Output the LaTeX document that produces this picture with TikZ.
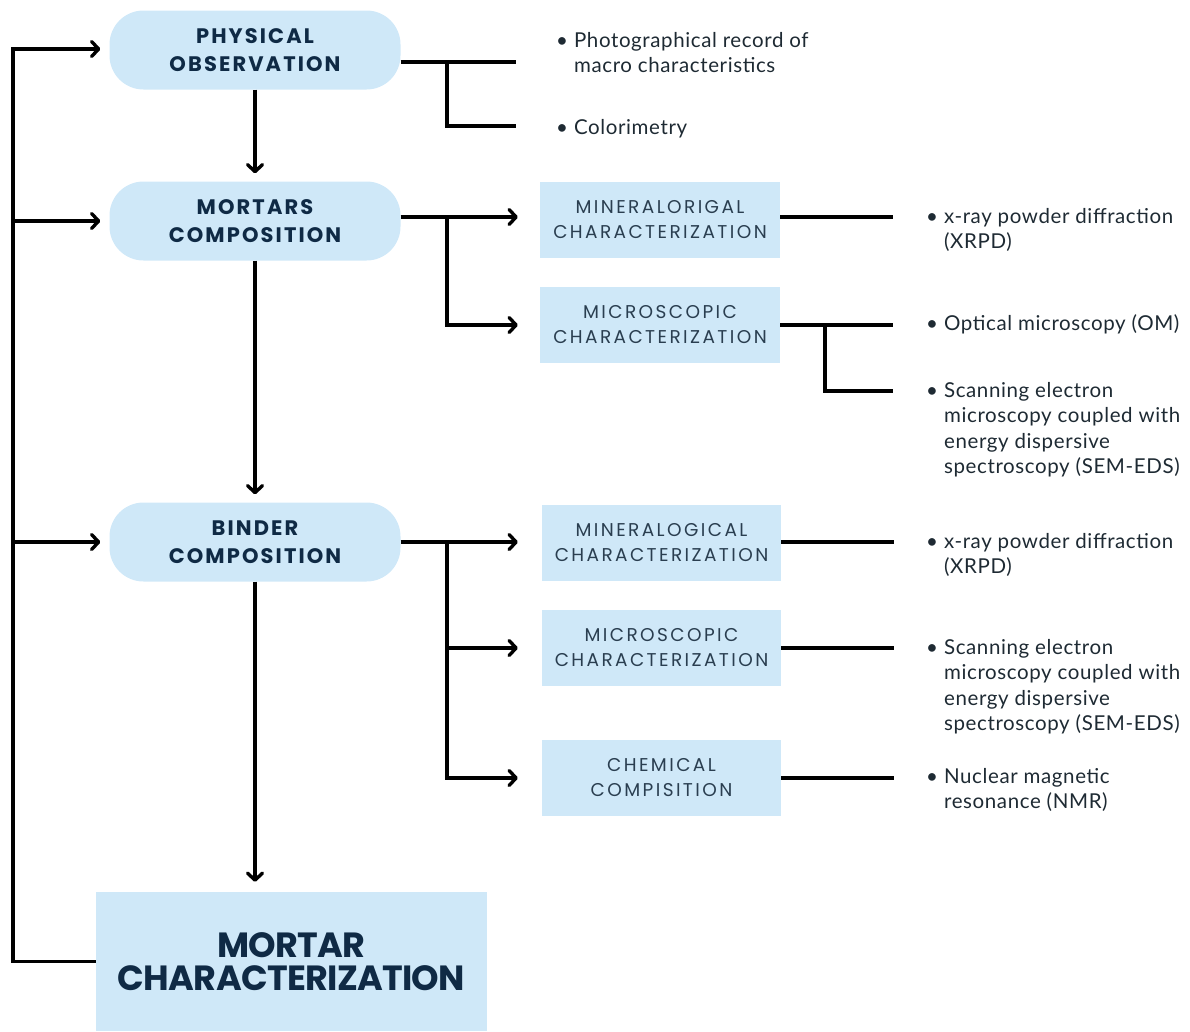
\documentclass[tikz,border=0pt]{standalone}
\usepackage{fontspec}
\setmainfont[LetterSpace=3]{Lato}
\newfontfamily\pillfont[LetterSpace=10]{Poppins}
\newfontfamily\boxfont[LetterSpace=13]{Poppins}
\newfontfamily\bigfont[LetterSpace=-2]{Poppins}
\usetikzlibrary{arrows.meta}
\definecolor{pale}{HTML}{CFE8F8}
\definecolor{navy}{HTML}{0F2A45}
\definecolor{slate}{HTML}{2A3E50}
\definecolor{ink}{HTML}{1E2A33}

\newcommand{\bul}[1]{\textbullet\hspace{6pt}\begin{tabular}[t]{@{}l@{}}#1\end{tabular}}

\tikzset{
    pill/.style={fill=pale, rounded corners=34pt, minimum width=291pt, minimum height=79pt, text=navy,
        font=\pillfont\bfseries\fontsize{21}{28}\selectfont, align=center},
    method/.style={fill=pale, minimum width=240pt, minimum height=76pt, text=slate,
        font=\boxfont\fontsize{18.5}{25}\selectfont, align=center},
    item/.style={anchor=base west, inner sep=0pt, align=left, text=ink,
        font=\fontsize{20.5}{25.5}\selectfont},
    link/.style={line width=3.4pt},
    arr/.style={link, -{Straight Barb[length=7pt,width=15pt,line width=3.4pt,round]}},
}

\begin{document}
\begin{tikzpicture}[x=1pt, y=-1pt]
    \useasboundingbox (0,0) rectangle (1190,1031);

    % main column
    \node[pill] (phys) at (255,50) {PHYSICAL\\OBSERVATION};
    \node[pill] (mort) at (255,221) {MORTARS\\COMPOSITION};
    \node[pill] (bind) at (255,542) {BINDER\\COMPOSITION};
    \node[fill=pale, minimum width=391pt, minimum height=139pt, text=navy, align=center,
        font=\bigfont\bfseries\fontsize{35}{33}\selectfont] (charac) at (291.5,961.5) {MORTAR\\CHARACTERIZATION};

    \draw[arr, shorten >=8pt] (phys) -- (mort);
    \draw[arr, shorten >=8pt] (mort) -- (bind);
    \draw[arr, shorten >=10pt] (bind) -- (bind |- charac.north);

    % feedback rail on the left
    \coordinate (rail) at (13,49);
    \draw[arr, shorten >=9pt] (charac.west) -| (rail) -- (rail -| phys.west);
    \draw[arr, shorten >=9pt] (rail |- mort) -- (mort);
    \draw[arr, shorten >=9pt] (rail |- bind) -- (bind);

    % analysis boxes
    \node[method] (minA) at (660,219.5) {MINERALORIGAL\\CHARACTERIZATION};
    \node[method] (micA) at (660,325) {MICROSCOPIC\\CHARACTERIZATION};
    \node[method, minimum width=239pt] (minB) at (661.5,543) {MINERALOGICAL\\CHARACTERIZATION};
    \node[method, minimum width=239pt] (micB) at (661.5,648) {MICROSCOPIC\\CHARACTERIZATION};
    \node[method, minimum width=239pt] (chem) at (661.5,778) {CHEMICAL\\COMPISITION};

    % techniques
    \node[item] (photo) at (556,47) {\bul{Photographical record of\\macro characteristics}};
    \node[item] (color) at (556,134) {\bul{Colorimetry}};
    \node[item] (xrpdA) at (926,223) {\bul{x-ray powder diffraction\\(XRPD)}};
    \node[item] (om) at (926,330) {\bul{Optical microscopy (OM)}};
    \node[item] (semA) at (926,397) {\bul{Scanning electron\\microscopy coupled with\\energy dispersive\\spectroscopy (SEM-EDS)}};
    \node[item] (xrpdB) at (926,548) {\bul{x-ray powder diffraction\\(XRPD)}};
    \node[item] (semB) at (926,654) {\bul{Scanning electron\\microscopy coupled with\\energy dispersive\\spectroscopy (SEM-EDS)}};
    \node[item] (nmr) at (926,783) {\bul{Nuclear magnetic\\resonance (NMR)}};

    % physical observation
    \coordinate (pj) at (447,62);
    \coordinate (photo-l) at (516,62);
    \coordinate (color-l) at (516,126);
    \draw[link] (phys.east |- pj) -- (photo-l);
    \draw[link] (pj) |- (color-l);

    % mortars composition
    \coordinate (mj) at (447,217);
    \draw[arr, shorten >=22pt] (mort.east |- mj) -- (minA.west |- mj);
    \draw[arr, shorten >=22pt] (mj) |- (micA.west);
    \coordinate (xrpdA-l) at (893,217);
    \coordinate (om-l) at (893,325);
    \coordinate (micj) at (825,325);
    \coordinate (semA-l) at (893,391);
    \draw[link] (minA.east |- mj) -- (xrpdA-l);
    \draw[link] (micA.east) -- (om-l);
    \draw[link] (micj) |- (semA-l);

    % binder composition
    \coordinate (bj) at (447,542);
    \draw[arr, shorten >=24pt] (bind.east |- bj) -- (minB.west |- bj);
    \draw[arr, shorten >=24pt] (bj) |- (micB.west);
    \draw[arr, shorten >=24pt] (bj) |- (chem.west);
    \coordinate (xrpdB-l) at (894,542);
    \coordinate (semB-l) at (894,648);
    \coordinate (nmr-l) at (894,778);
    \draw[link] (minB.east |- bj) -- (xrpdB-l);
    \draw[link] (micB.east) -- (semB-l);
    \draw[link] (chem.east) -- (nmr-l);
\end{tikzpicture}
\end{document}
